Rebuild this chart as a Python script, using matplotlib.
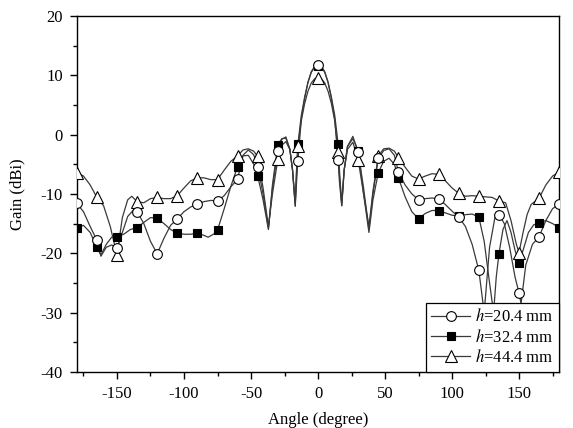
import matplotlib

matplotlib.use("Agg")
import matplotlib.pyplot as plt
from matplotlib.lines import Line2D
from matplotlib.ticker import MultipleLocator

plt.rcParams["font.family"] = ["Liberation Serif", "DejaVu Serif"]
plt.rcParams["mathtext.fontset"] = "stix"
plt.rcParams["axes.unicode_minus"] = False

# sampled markers (every 15 degrees)
marker_angle = [-180, -165, -150, -135, -120, -105, -90, -75, -60, -45, -30, -15, 0,
                15, 30, 45, 60, 75, 90, 105, 120, 135, 150, 165, 180]
marker_h204 = [-11.6, -17.8, -19.2, -13.0, -20.1, -14.2, -11.7, -11.2, -7.5, -5.4, -2.7, -4.4, 11.7,
               -4.3, -3.0, -4.0, -6.3, -11.0, -10.8, -13.9, -22.9, -13.5, -26.7, -17.2, -11.7]
marker_h324 = [-15.8, -19.0, -17.2, -15.7, -14.1, -16.6, -16.6, -16.1, -5.4, -7.0, -1.7, -1.6, 11.5,
               -1.6, -2.7, -6.4, -7.3, -14.2, -12.8, -13.7, -13.9, -20.1, -21.6, -14.9, -15.7]
marker_h444 = [-6.4, -10.6, -20.3, -11.3, -10.6, -10.3, -7.3, -7.6, -3.6, -3.7, -4.2, -1.9, 9.6,
               -3.0, -4.3, -3.6, -3.9, -7.5, -6.7, -9.9, -10.4, -11.2, -19.9, -10.7, -6.3]

# full pattern curves
curve_angle_h204 = [-180, -175, -170, -165, -162, -158, -154, -150, -146, -142, -138, -135, -130,
                    -125, -120, -115, -110, -105, -100, -95, -90, -85, -80, -75, -70, -65, -60,
                    -56, -52, -48, -45, -41, -37, -34, -30, -27, -24, -21, -19, -17, -16, -15,
                    -12.5, -10, -7.5, -5, -2.5, 0, 2.5, 5, 7.5, 10, 12.5, 15, 16, 17.7, 19.5,
                    22, 26, 30, 34, 38, 41, 45, 49, 53, 57, 60, 65, 70, 75, 80, 85, 90, 95, 100,
                    105, 110, 115, 120, 124, 128, 132, 135, 139, 143, 147, 150, 151.5, 155, 160,
                    165, 170, 175, 180]
curve_gain_h204 = [-11.6, -13.0, -15.5, -17.8, -20.5, -19.0, -18.6, -19.2, -16.5, -13.8, -12.8,
                   -13.0, -15.0, -18.0, -20.1, -17.5, -15.3, -14.2, -13.0, -12.2, -11.7, -11.3,
                   -11.1, -11.2, -10.3, -8.8, -7.5, -3.5, -2.6, -3.4, -5.4, -10.0, -15.8, -9.0,
                   -2.7, -0.8, -0.4, -2.5, -6.0, -12.1, -8.0, -4.4, 2.5, 6.0, 8.8, 10.6, 11.5,
                   11.7, 11.5, 10.6, 8.8, 6.0, 2.5, -4.3, -8.0, -12.0, -6.0, -2.0, -0.3, -3.0,
                   -9.0, -16.0, -10.0, -4.0, -2.7, -2.4, -3.5, -6.3, -8.5, -10.0, -11.0, -10.8,
                   -10.7, -10.8, -11.8, -12.9, -13.9, -15.5, -18.5, -22.9, -30.0, -19.0, -14.0,
                   -13.5, -15.0, -19.0, -24.0, -26.7, -28.5, -22.0, -18.5, -17.2, -14.5, -12.5,
                   -11.7]

curve_angle_h324 = [-180, -175, -170, -165, -162, -158, -154, -150, -145, -140, -135, -130, -125,
                    -120, -115, -110, -105, -100, -95, -90, -85, -82, -78, -75, -70, -65, -60,
                    -56, -52, -48, -45, -41, -37, -34, -30, -27, -24, -21, -19, -17, -16, -15,
                    -12.5, -10, -7.5, -5, -2.5, 0, 2.5, 5, 7.5, 10, 12.5, 15, 16, 17.7, 19.5,
                    22, 26, 30, 34, 38, 41, 45, 49, 53, 57, 60, 65, 70, 75, 80, 85, 90, 95, 100,
                    105, 110, 115, 120, 124, 128, 131, 133, 135, 138, 141, 144, 147, 150, 153,
                    157, 161, 165, 170, 175, 180]
curve_gain_h324 = [-15.8, -15.3, -16.5, -19.0, -20.3, -18.5, -17.3, -17.2, -16.8, -16.0, -15.7,
                   -14.8, -14.0, -14.1, -15.0, -16.0, -16.6, -16.8, -16.8, -16.6, -17.0, -17.3,
                   -16.8, -16.1, -12.5, -8.7, -5.4, -3.6, -3.5, -5.0, -7.0, -11.0, -16.0, -8.5,
                   -1.7, -0.7, -0.6, -2.5, -6.0, -12.0, -6.0, -1.6, 3.2, 6.3, 8.8, 10.5, 11.3,
                   11.5, 11.3, 10.5, 8.8, 6.3, 3.2, -1.6, -6.0, -12.0, -6.0, -2.0, -0.7, -2.7,
                   -10.0, -16.5, -11.0, -6.4, -4.5, -4.0, -5.0, -7.3, -10.5, -13.0, -14.2,
                   -13.3, -12.8, -12.8, -13.2, -13.6, -13.7, -13.5, -13.4, -13.9, -18.0, -25.0,
                   -30.0, -24.0, -20.1, -16.0, -14.5, -16.5, -19.5, -21.6, -19.5, -16.5, -15.2,
                   -14.9, -14.5, -15.0, -15.7]

curve_angle_h444 = [-180, -175, -170, -165, -160, -155, -150, -146, -142, -139, -135, -130, -125,
                    -120, -115, -110, -105, -100, -95, -90, -85, -80, -75, -70, -65, -60, -56,
                    -52, -48, -45, -41, -37, -34, -30, -27, -24, -21, -19, -17, -16, -15, -12.5,
                    -10, -7.5, -5, -2.5, 0, 2.5, 5, 7.5, 10, 12.5, 15, 16, 17.7, 19.5, 22, 26,
                    30, 34, 38, 41, 45, 49, 53, 57, 60, 65, 70, 75, 80, 85, 90, 95, 100, 105,
                    110, 115, 120, 125, 130, 135, 140, 144, 148, 150, 153, 156, 159, 165, 170,
                    175, 180]
curve_gain_h444 = [-6.4, -7.0, -8.5, -10.6, -12.0, -15.5, -20.3, -14.0, -11.0, -10.4, -11.3,
                   -11.5, -10.8, -10.6, -10.8, -10.8, -10.3, -9.0, -7.8, -7.3, -7.3, -7.6, -7.6,
                   -6.0, -4.5, -3.6, -2.6, -2.4, -2.8, -3.7, -9.0, -15.5, -10.0, -4.2, -1.8,
                   -1.2, -2.5, -6.0, -11.5, -6.0, -1.9, 2.3, 5.2, 7.3, 8.7, 9.4, 9.6, 9.4, 8.7,
                   7.3, 5.2, 2.3, -3.0, -7.0, -11.5, -6.0, -2.5, -1.3, -4.3, -10.0, -15.5, -9.5,
                   -3.6, -2.4, -2.3, -2.8, -3.9, -5.5, -7.0, -7.5, -7.0, -6.6, -6.7, -7.8, -9.0,
                   -9.9, -10.4, -10.3, -10.4, -10.5, -10.6, -11.2, -11.5, -14.5, -18.5, -19.9,
                   -16.5, -13.5, -11.8, -10.7, -8.5, -7.0, -6.3]

series = [
    ("$h$=20.4 mm", curve_angle_h204, curve_gain_h204, marker_h204, "o", "white", 7.0),
    ("$h$=32.4 mm", curve_angle_h324, curve_gain_h324, marker_h324, "s", "black", 6.2),
    ("$h$=44.4 mm", curve_angle_h444, curve_gain_h444, marker_h444, "^", "white", 8.0),
]
line_color = "#3a3a3a"
marker_z = {"o": 5, "s": 3, "^": 4}

fig = plt.figure(figsize=(5.73, 4.28), dpi=100)
ax = fig.add_axes([0.134, 0.131, 0.842, 0.832])

handles = []
for label, c_ang, c_gain, m_gain, mk, face, ms in series:
    ax.plot(c_ang, c_gain, color=line_color, linewidth=0.9, zorder=2)
    ax.plot(marker_angle, m_gain, linestyle="none", marker=mk, markersize=ms,
            markerfacecolor=face, markeredgecolor="black", markeredgewidth=0.8,
            zorder=marker_z[mk])
    handles.append(Line2D([], [], color=line_color, linewidth=0.9, marker=mk, markersize=ms,
                          markerfacecolor=face, markeredgecolor="black",
                          markeredgewidth=0.8, label=label))

ax.set_xlim(-180, 180)
ax.set_ylim(-40, 20)
ax.xaxis.set_major_locator(MultipleLocator(50))
ax.xaxis.set_minor_locator(MultipleLocator(25))
ax.yaxis.set_major_locator(MultipleLocator(10))
ax.yaxis.set_minor_locator(MultipleLocator(5))
ax.tick_params(which="both", direction="out", top=False, right=False, labelsize=12,
               width=1.0, pad=5)
ax.tick_params(which="major", length=5)
ax.tick_params(which="minor", length=3)
for sp in ax.spines.values():
    sp.set_linewidth(1.0)

ax.set_xlabel("Angle (degree)", fontsize=12, labelpad=7)
ax.set_ylabel("Gain (dBi)", fontsize=12, labelpad=11)

leg = ax.legend(handles=handles, loc="lower right", borderaxespad=0, fontsize=12,
                fancybox=False, framealpha=1, edgecolor="black", handlelength=2.3,
                handletextpad=0.3, labelspacing=0.2, borderpad=0.35)
leg.get_frame().set_linewidth(0.9)
leg.set_zorder(10)

fig.savefig("out.png", dpi=100)
plt.close(fig)
